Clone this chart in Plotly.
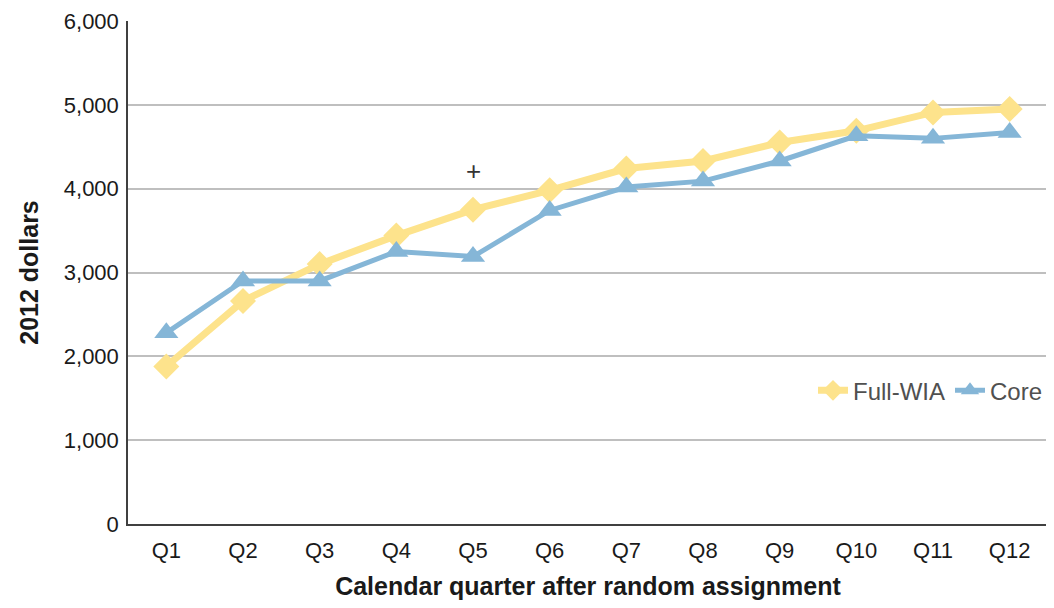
import plotly.graph_objects as go

quarters = ["Q1", "Q2", "Q3", "Q4", "Q5", "Q6", "Q7", "Q8", "Q9", "Q10", "Q11", "Q12"]
full_wia = [1880, 2660, 3100, 3440, 3750, 3980, 4240, 4330, 4550, 4690, 4910, 4950]
core = [2280, 2900, 2900, 3250, 3190, 3740, 4020, 4090, 4330, 4630, 4600, 4670]

fig = go.Figure()
fig.add_trace(go.Scatter(
    x=quarters, y=full_wia, name="Full-WIA", mode="lines+markers",
    line=dict(color="#FDE38C", width=7),
    marker=dict(symbol="diamond", size=20, color="#FDE38C"),
))
fig.add_trace(go.Scatter(
    x=quarters, y=core, name="Core", mode="lines+markers",
    line=dict(color="#85B6D7", width=5),
    marker=dict(symbol="triangle-up", size=21, color="#85B6D7"),
))

# significance marker
fig.add_annotation(x="Q5", y=4210, text="+", showarrow=False,
                   font=dict(size=26, color="#333333"))

# page body has an 8px margin, so the figure is sized to fit inside the window
fig.update_layout(
    width=1046, height=592,
    margin=dict(l=120, r=6, t=13, b=76),
    plot_bgcolor="white", paper_bgcolor="white",
    font=dict(family="Liberation Sans, Arial", size=21, color="#1a1a1a"),
    showlegend=True,
    legend=dict(orientation="h", x=1.0, xanchor="right", y=0.265, yanchor="middle",
                font=dict(size=24, color="#505050"), bgcolor="rgba(0,0,0,0)"),
)
fig.update_xaxes(
    range=[-0.5, 11.5],
    showline=True, linecolor="#404040", linewidth=1.5, showgrid=False,
    ticks="", tickfont=dict(size=22), ticklabelstandoff=6, automargin=False,
    title=dict(text="<b>Calendar quarter after random assignment</b>", font=dict(size=25), standoff=16),
)
fig.update_yaxes(
    range=[0, 6000], dtick=1000, tickformat=",d",
    showline=True, linecolor="#404040", linewidth=1.5,
    showgrid=True, gridcolor="#BFBFBF", gridwidth=1.5, automargin=False,
    ticks="", tickfont=dict(size=22), ticklabelstandoff=3, zeroline=False,
    title=dict(text="<b>2012 dollars</b>", font=dict(size=25), standoff=18),
)

fig.write_html("out.html")
